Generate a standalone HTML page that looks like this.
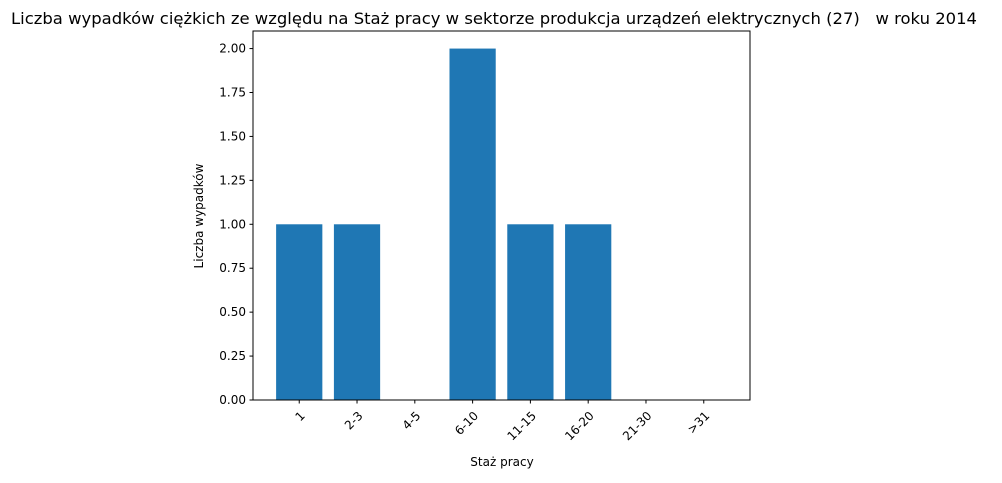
<!DOCTYPE html>
<html><head><meta charset="utf-8"><style>
body{margin:0;background:#fff;font-family:"Liberation Sans","DejaVu Sans",sans-serif;}
svg text{font-family:"DejaVu Sans","Liberation Sans",sans-serif;}
</style></head><body>
<svg id="chart" width="1002" height="478" xmlns="http://www.w3.org/2000/svg">
<text x="494" y="24" font-size="16" text-anchor="middle" style="white-space:pre" xml:space="preserve" textLength="966" lengthAdjust="spacingAndGlyphs">Liczba wypadków ciężkich ze względu na Staż pracy w sektorze produkcja urządzeń elektrycznych (27)   w roku 2014</text>
<g id="bars"></g><g id="yticks"></g><g id="xticks"></g>
<rect x="253" y="31" width="497" height="369" fill="none" stroke="#000" stroke-width="1"/>
<text x="502" y="466" font-size="12" text-anchor="middle">Staż pracy</text>
<text transform="translate(203,216) rotate(-90)" font-size="12" text-anchor="middle">Liczba wypadków</text>
</svg>
<script>
const categories=["1","2-3","4-5","6-10","11-15","16-20","21-30",">31"];
const values=[1,1,0,2,1,1,0,0];
const yTicks=[0,0.25,0.5,0.75,1.0,1.25,1.5,1.75,2.0];
const yTickLabels=["0.00","0.25","0.50","0.75","1.00","1.25","1.50","1.75","2.00"];
const NS="http://www.w3.org/2000/svg";
const L=253,R=750,T=31,B=400;
const x=i=>L+(i+0.8)/8.6*(R-L);
const y=v=>B-v/2.1*(B-T);
const bw=0.8/8.6*(R-L);
const bars=document.getElementById('bars');
values.forEach((v,i)=>{const r=document.createElementNS(NS,'rect');
r.setAttribute('x',x(i)-bw/2);r.setAttribute('y',y(v));r.setAttribute('width',bw);r.setAttribute('height',B-y(v));r.setAttribute('fill','#1f77b4');


bars.appendChild(r);});
const yt=document.getElementById('yticks');
yTicks.forEach((t,i)=>{const g=document.createElementNS(NS,'g');


g.innerHTML=`<line x1="${L-3.5}" x2="${L}" y1="${y(t)}" y2="${y(t)}" stroke="#000"/><text x="${L-7}" y="${y(t)+4}" font-size="12" text-anchor="end">${yTickLabels[i]}</text>`;
yt.appendChild(g);});
const xt=document.getElementById('xticks');
categories.forEach((c,i)=>{const g=document.createElementNS(NS,'g');


const cx=x(i);
g.innerHTML=`<line x1="${cx}" x2="${cx}" y1="${B}" y2="${B+3.5}" stroke="#000"/><text transform="translate(${cx+4},${B+14}) rotate(-45)" font-size="12" text-anchor="end" dominant-baseline="middle">${c.replace('>','&gt;')}</text>`;
xt.appendChild(g);});
</script>
</body></html>
